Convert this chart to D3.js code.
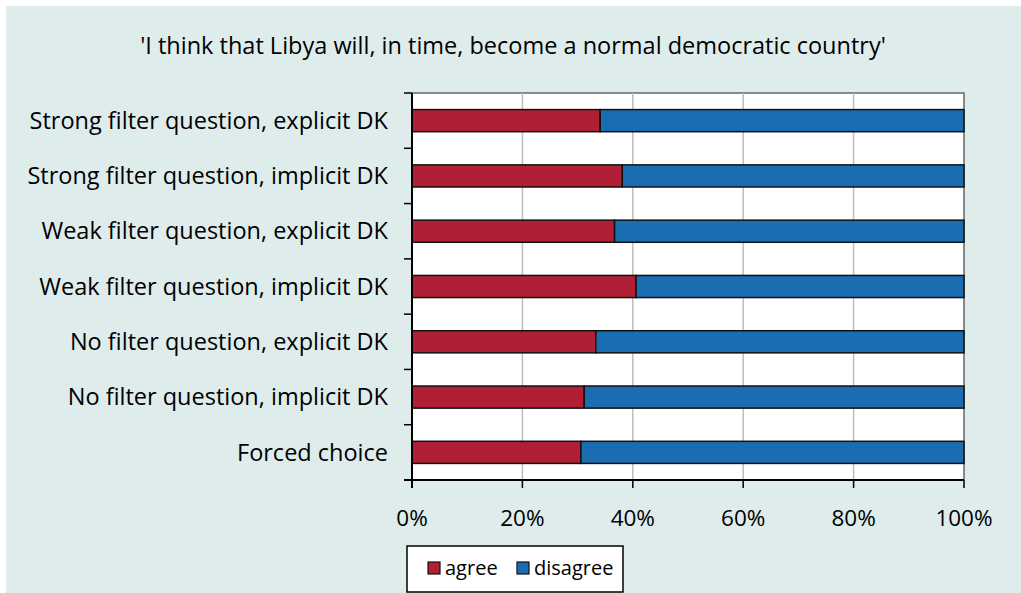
<!DOCTYPE html>
<html><head><meta charset="utf-8">
<script src="https://cdn.jsdelivr.net/npm/d3@7"></script>
<style>html,body{margin:0;padding:0;background:#fff;}svg{display:block;}</style>
</head><body><svg id="c" width="1021" height="593"></svg>
<script>
const title = "'I think that Libya will, in time, become a normal democratic country'";
const categories = ["Strong filter question, explicit DK","Strong filter question, implicit DK","Weak filter question, explicit DK","Weak filter question, implicit DK","No filter question, explicit DK","No filter question, implicit DK","Forced choice"];
const agree = [34.1, 38.1, 36.7, 40.6, 33.3, 31.2, 30.6];
const disagree = agree.map(v => 100 - v);
const seriesNames = ["agree","disagree"];
const seriesColors = ["#b11f36","#1a6db1"];
const xTicks = [0,20,40,60,80,100];

const font = "'Open Sans', sans-serif";
const svg = d3.select("#c");
svg.append("rect").attr("x",6).attr("y",6).attr("width",1015).attr("height",587).attr("fill","#deecec");
svg.append("text").attr("x",513).attr("y",54).attr("text-anchor","middle").attr("font-family",font).attr("font-size",23.5).attr("fill","#000").text(title);

const L=412,R=964,T=93,B=480;
const x = d3.scaleLinear().domain([0,100]).range([L,R]);
const y = d3.scaleBand().domain(categories).range([T,B]).paddingInner(0.6).paddingOuter(0.3);
const yOuter = d3.scaleBand().domain(categories).range([T,B]);

svg.append("rect").attr("x",L).attr("y",T).attr("width",R-L).attr("height",B-T).attr("fill","#fff").attr("stroke","#666").attr("stroke-width",1.5);
svg.append("g").selectAll("line").data(xTicks.slice(1,-1)).join("line")
  .attr("x1",d=>x(d)).attr("x2",d=>x(d)).attr("y1",T).attr("y2",B).attr("stroke","#bdbdbd").attr("stroke-width",1.5);

const rows = categories.map((c,i)=>({c, vals:[agree[i],disagree[i]]}));
rows.forEach(r=>{
  let acc=0;
  r.vals.forEach((v,j)=>{
    svg.append("rect").attr("x",x(acc)).attr("y",y(r.c)).attr("width",x(acc+v)-x(acc)).attr("height",y.bandwidth())
      .attr("fill",seriesColors[j]).attr("stroke","#111").attr("stroke-width",1.5);
    acc+=v;
  });
});

// y axis
svg.append("line").attr("x1",L).attr("x2",L).attr("y1",T).attr("y2",B+8).attr("stroke","#000").attr("stroke-width",2);
const yTickPos = categories.map(c=>yOuter(c)).concat([B]);
svg.append("g").selectAll("line").data(yTickPos).join("line")
  .attr("x1",L-8).attr("x2",L).attr("y1",d=>d).attr("y2",d=>d).attr("stroke","#000").attr("stroke-width",1.5);
svg.append("g").selectAll("text").data(categories).join("text")
  .attr("x",388).attr("y",d=>y(d)+y.bandwidth()/2).attr("dy","0.35em").attr("text-anchor","end")
  .attr("font-family",font).attr("font-size",23.5).attr("fill","#000").text(d=>d);

// x axis
svg.append("line").attr("x1",L-8).attr("x2",R).attr("y1",B).attr("y2",B).attr("stroke","#000").attr("stroke-width",2);
svg.append("g").selectAll("line").data(xTicks).join("line")
  .attr("x1",d=>x(d)).attr("x2",d=>x(d)).attr("y1",B).attr("y2",B+8).attr("stroke","#000").attr("stroke-width",1.5);
svg.append("g").selectAll("text").data(xTicks).join("text")
  .attr("x",d=>x(d)).attr("y",526).attr("text-anchor","middle")
  .attr("font-family",font).attr("font-size",22.5).attr("fill","#000").text(d=>d+"%");

// legend
svg.append("rect").attr("x",407).attr("y",546).attr("width",216).attr("height",46).attr("fill","#fff").attr("stroke","#000").attr("stroke-width",1.5);
const legX=[428,517];
seriesNames.forEach((n,i)=>{
  svg.append("rect").attr("x",legX[i]).attr("y",562).attr("width",12).attr("height",12).attr("fill",seriesColors[i]).attr("stroke","#111").attr("stroke-width",1.2);
  svg.append("text").attr("x",legX[i]+17).attr("y",575).attr("font-family",font).attr("font-size",20).attr("fill","#000").text(n);
});
</script></body></html>
